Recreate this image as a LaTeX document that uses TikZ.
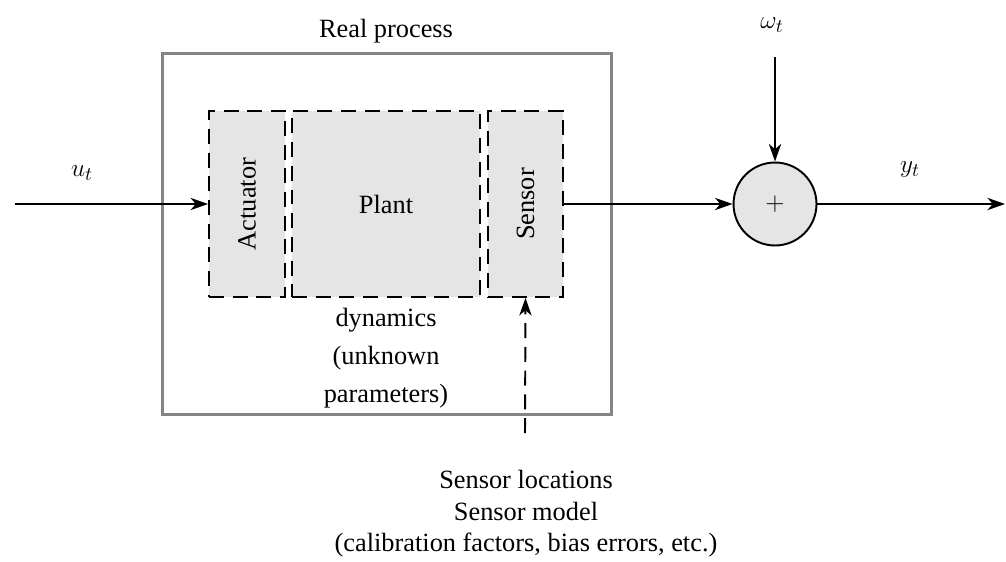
\documentclass[tikz,border=0pt]{standalone}
\usepackage{fontspec}
\setmainfont{Liberation Serif}
\usepackage{tikz}
\usetikzlibrary{arrows.meta, positioning}
\definecolor{blockgray}{HTML}{E5E5E5}
\definecolor{framegray}{HTML}{858585}

\begin{document}
\begin{tikzpicture}[
  x=0.02cm, y=-0.02cm,
  every node/.style={font=\fontsize{15}{18}\selectfont},
  procbox/.style={rectangle, draw=framegray, line width=1.7pt, minimum width=9cm, minimum height=7.24cm},
  blockbox/.style={rectangle, draw=black, fill=blockgray, line width=1.1pt, dash pattern=on 8.5pt off 5pt, minimum height=3.72cm, inner sep=0pt},
  sumnode/.style={circle, draw=black, fill=blockgray, line width=1.1pt, minimum size=1.66cm, inner sep=0pt},
  arrow/.style={-{Stealth[length=10pt, width=7pt, inset=3pt]}, line width=1.1pt},
  dasharrow/.style={arrow, dash pattern=on 8.5pt off 5pt}
]
\useasboundingbox (0,0) rectangle (1006,561);

\node[procbox] (proc) at (387,234) {};
\node (proclabel) at (386,31) {Real process};

\node[blockbox, minimum width=1.52cm] (act) at (247,204) {};
\node[blockbox, minimum width=3.76cm] (plant) at (386,204) {Plant};
\node[blockbox, minimum width=1.5cm] (sens) at (525.5,204) {};
\node[rotate=90] (actlabel) at (act) {Actuator};
\node[rotate=90] (senslabel) at (sens) {Sensor};

\node[align=center, font=\fontsize{15}{21.5}\selectfont] (dyn) at (386,358) {dynamics\\(unknown\\parameters)};

\node[sumnode] (sum) at (775,204) {$+$};

\coordinate (uin) at (15,204);
\coordinate (wtop) at (775,57);
\coordinate (yout) at (1005,204);
\coordinate (sbot) at (525,433);

\node (ulabel) at (82,173) {$u_t$};
\node (wlabel) at (772,25) {$\omega_t$};
\node (ylabel) at (910,170) {$y_t$};

\node[align=center, font=\fontsize{15}{18}\selectfont] (smodel) at (526,514) {Sensor locations\\Sensor model\\(calibration factors, bias errors, etc.)};

\draw[arrow] (uin) -- (act.west);
\draw[arrow] (sens.east) -- (sum.west);
\draw[arrow] (wtop) -- (sum.north);
\draw[arrow] (sum.east) -- (yout);
\draw[dasharrow] (sbot) -- (sens.south);
\end{tikzpicture}
\end{document}
